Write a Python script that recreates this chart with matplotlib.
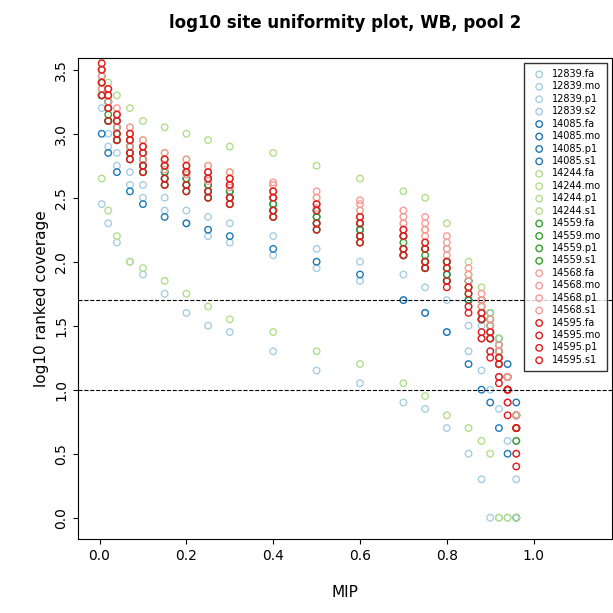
import matplotlib
matplotlib.use("Agg")
import matplotlib.pyplot as plt

# posiciones MIP compartidas por todas las series
mip = [0.005, 0.02, 0.04, 0.07, 0.1, 0.15, 0.2, 0.25, 0.3, 0.4, 0.5,
       0.6, 0.7, 0.75, 0.8, 0.85, 0.88, 0.9, 0.92, 0.94, 0.96]

nombres = ["12839.fa", "12839.mo", "12839.p1", "12839.s2",
           "14085.fa", "14085.mo", "14085.p1", "14085.s1",
           "14244.fa", "14244.mo", "14244.p1", "14244.s1",
           "14559.fa", "14559.mo", "14559.p1", "14559.s1",
           "14568.fa", "14568.mo", "14568.p1", "14568.s1",
           "14595.fa", "14595.mo", "14595.p1", "14595.s1"]

valores = [
    [3.3, 3.0, 2.85, 2.7, 2.6, 2.5, 2.4, 2.35, 2.3, 2.2, 2.1, 2.0, 1.9, 1.8, 1.7, 1.5, 1.4, 1.3, 1.1, 0.9, 0.5],
    [3.2, 2.9, 2.75, 2.6, 2.5, 2.4, 2.3, 2.2, 2.15, 2.05, 1.95, 1.85, 1.7, 1.6, 1.45, 1.3, 1.15, 1.0, 0.85, 0.6, 0.3],
    [2.45, 2.3, 2.15, 2.0, 1.9, 1.75, 1.6, 1.5, 1.45, 1.3, 1.15, 1.05, 0.9, 0.85, 0.7, 0.5, 0.3, 0.0, 0.0, 0.0, 0.0],
    [3.4, 3.1, 2.95, 2.8, 2.7, 2.6, 2.55, 2.5, 2.45, 2.35, 2.25, 2.15, 2.05, 1.95, 1.85, 1.65, 1.5, 1.4, 1.2, 1.0, 0.6],
    [3.4, 3.2, 3.05, 2.9, 2.8, 2.7, 2.65, 2.6, 2.55, 2.45, 2.35, 2.25, 2.1, 2.0, 1.9, 1.7, 1.55, 1.4, 1.2, 1.0, 0.7],
    [3.3, 3.1, 2.95, 2.85, 2.75, 2.65, 2.6, 2.55, 2.5, 2.4, 2.3, 2.2, 2.05, 1.95, 1.85, 1.7, 1.55, 1.45, 1.3, 1.1, 0.8],
    [3.0, 2.85, 2.7, 2.55, 2.45, 2.35, 2.3, 2.25, 2.2, 2.1, 2.0, 1.9, 1.7, 1.6, 1.45, 1.2, 1.0, 0.9, 0.7, 0.5, 0.0],
    [3.5, 3.25, 3.1, 2.95, 2.85, 2.75, 2.7, 2.65, 2.6, 2.5, 2.4, 2.3, 2.2, 2.1, 2.0, 1.85, 1.7, 1.6, 1.4, 1.2, 0.9],
    [3.6, 3.4, 3.3, 3.2, 3.1, 3.05, 3.0, 2.95, 2.9, 2.85, 2.75, 2.65, 2.55, 2.5, 2.3, 2.0, 1.8, 1.6, 1.4, 1.1, 0.8],
    [3.5, 3.3, 3.15, 3.05, 2.95, 2.85, 2.8, 2.75, 2.7, 2.6, 2.5, 2.4, 2.3, 2.25, 2.1, 1.9, 1.7, 1.5, 1.3, 1.1, 0.8],
    [2.65, 2.4, 2.2, 2.0, 1.95, 1.85, 1.75, 1.65, 1.55, 1.45, 1.3, 1.2, 1.05, 0.95, 0.8, 0.7, 0.6, 0.5, 0.0, 0.0, 0.0],
    [3.4, 3.2, 3.1, 3.0, 2.9, 2.8, 2.75, 2.7, 2.65, 2.55, 2.45, 2.35, 2.25, 2.15, 2.0, 1.8, 1.6, 1.45, 1.3, 1.0, 0.7],
    [3.4, 3.2, 3.05, 2.9, 2.8, 2.7, 2.65, 2.6, 2.55, 2.45, 2.35, 2.25, 2.15, 2.05, 1.95, 1.8, 1.65, 1.5, 1.3, 1.1, 0.8],
    [3.35, 3.15, 3.0, 2.85, 2.75, 2.65, 2.6, 2.55, 2.5, 2.4, 2.3, 2.2, 2.1, 2.0, 1.9, 1.75, 1.6, 1.45, 1.25, 1.0, 0.7],
    [3.45, 3.25, 3.1, 2.95, 2.85, 2.75, 2.7, 2.65, 2.6, 2.5, 2.4, 2.3, 2.2, 2.1, 2.0, 1.85, 1.7, 1.55, 1.35, 1.1, 0.8],
    [3.3, 3.1, 2.95, 2.8, 2.7, 2.6, 2.55, 2.5, 2.45, 2.35, 2.25, 2.15, 2.05, 1.95, 1.85, 1.7, 1.55, 1.4, 1.2, 1.0, 0.6],
    [3.45, 3.3, 3.15, 3.0, 2.9, 2.8, 2.75, 2.7, 2.65, 2.6, 2.5, 2.45, 2.35, 2.3, 2.15, 1.9, 1.7, 1.5, 1.3, 1.1, 0.8],
    [3.4, 3.25, 3.1, 2.95, 2.85, 2.75, 2.7, 2.65, 2.6, 2.55, 2.45, 2.4, 2.3, 2.25, 2.1, 1.85, 1.65, 1.45, 1.25, 1.0, 0.7],
    [3.5, 3.35, 3.2, 3.05, 2.95, 2.85, 2.8, 2.75, 2.7, 2.62, 2.55, 2.48, 2.4, 2.35, 2.2, 1.95, 1.75, 1.55, 1.35, 1.1, 0.8],
    [3.35, 3.2, 3.05, 2.9, 2.8, 2.72, 2.68, 2.63, 2.58, 2.5, 2.42, 2.35, 2.25, 2.2, 2.05, 1.8, 1.6, 1.4, 1.2, 1.0, 0.7],
    [3.5, 3.3, 3.1, 2.95, 2.85, 2.75, 2.7, 2.65, 2.6, 2.5, 2.4, 2.3, 2.2, 2.1, 1.95, 1.75, 1.55, 1.4, 1.2, 1.0, 0.7],
    [3.4, 3.2, 3.0, 2.85, 2.75, 2.65, 2.6, 2.55, 2.5, 2.4, 2.3, 2.2, 2.1, 2.0, 1.85, 1.65, 1.45, 1.3, 1.1, 0.9, 0.5],
    [3.55, 3.35, 3.15, 3.0, 2.9, 2.8, 2.75, 2.7, 2.65, 2.55, 2.45, 2.35, 2.25, 2.15, 2.0, 1.8, 1.6, 1.45, 1.25, 1.0, 0.7],
    [3.3, 3.1, 2.95, 2.8, 2.7, 2.6, 2.55, 2.5, 2.45, 2.35, 2.25, 2.15, 2.05, 1.95, 1.8, 1.6, 1.4, 1.25, 1.05, 0.8, 0.4],
]

colores = ["#a6cee3", "#1f78b4", "#b2df8a", "#33a02c", "#fb9a99", "#e31a1c"]

fig, ax = plt.subplots(figsize=(6.13, 6.13), dpi=100)
fig.subplots_adjust(left=0.127, right=0.998, top=0.905, bottom=0.12)

for i, (nombre, y) in enumerate(zip(nombres, valores)):
    ax.scatter(mip, y, s=22, facecolors="none", edgecolors=colores[i // 4],
               linewidths=1.0, label=nombre)

ax.axhline(1.0, color="black", linestyle="--", linewidth=0.8)
ax.axhline(1.7, color="black", linestyle="--", linewidth=0.8)

ax.set_xlim(-0.05, 1.18)
ax.set_ylim(-0.17, 3.59)
ax.set_xticks([0.0, 0.2, 0.4, 0.6, 0.8, 1.0])
ax.set_yticks([0.0, 0.5, 1.0, 1.5, 2.0, 2.5, 3.0, 3.5])
for t in ax.get_yticklabels():
    t.set_rotation(90)
    t.set_va("center")
ax.tick_params(labelsize=10)
ax.set_xlabel("MIP", fontsize=11, labelpad=16)
ax.set_ylabel("log10 ranked coverage", fontsize=11)
ax.set_title("log10 site uniformity plot, WB, pool 2", fontsize=12,
             fontweight="bold", pad=22)
ax.legend(loc="upper right", fontsize=7, handletextpad=0.3,
          labelspacing=0.25, fancybox=False, edgecolor="black",
          borderpad=0.6)

fig.savefig("out.png")
